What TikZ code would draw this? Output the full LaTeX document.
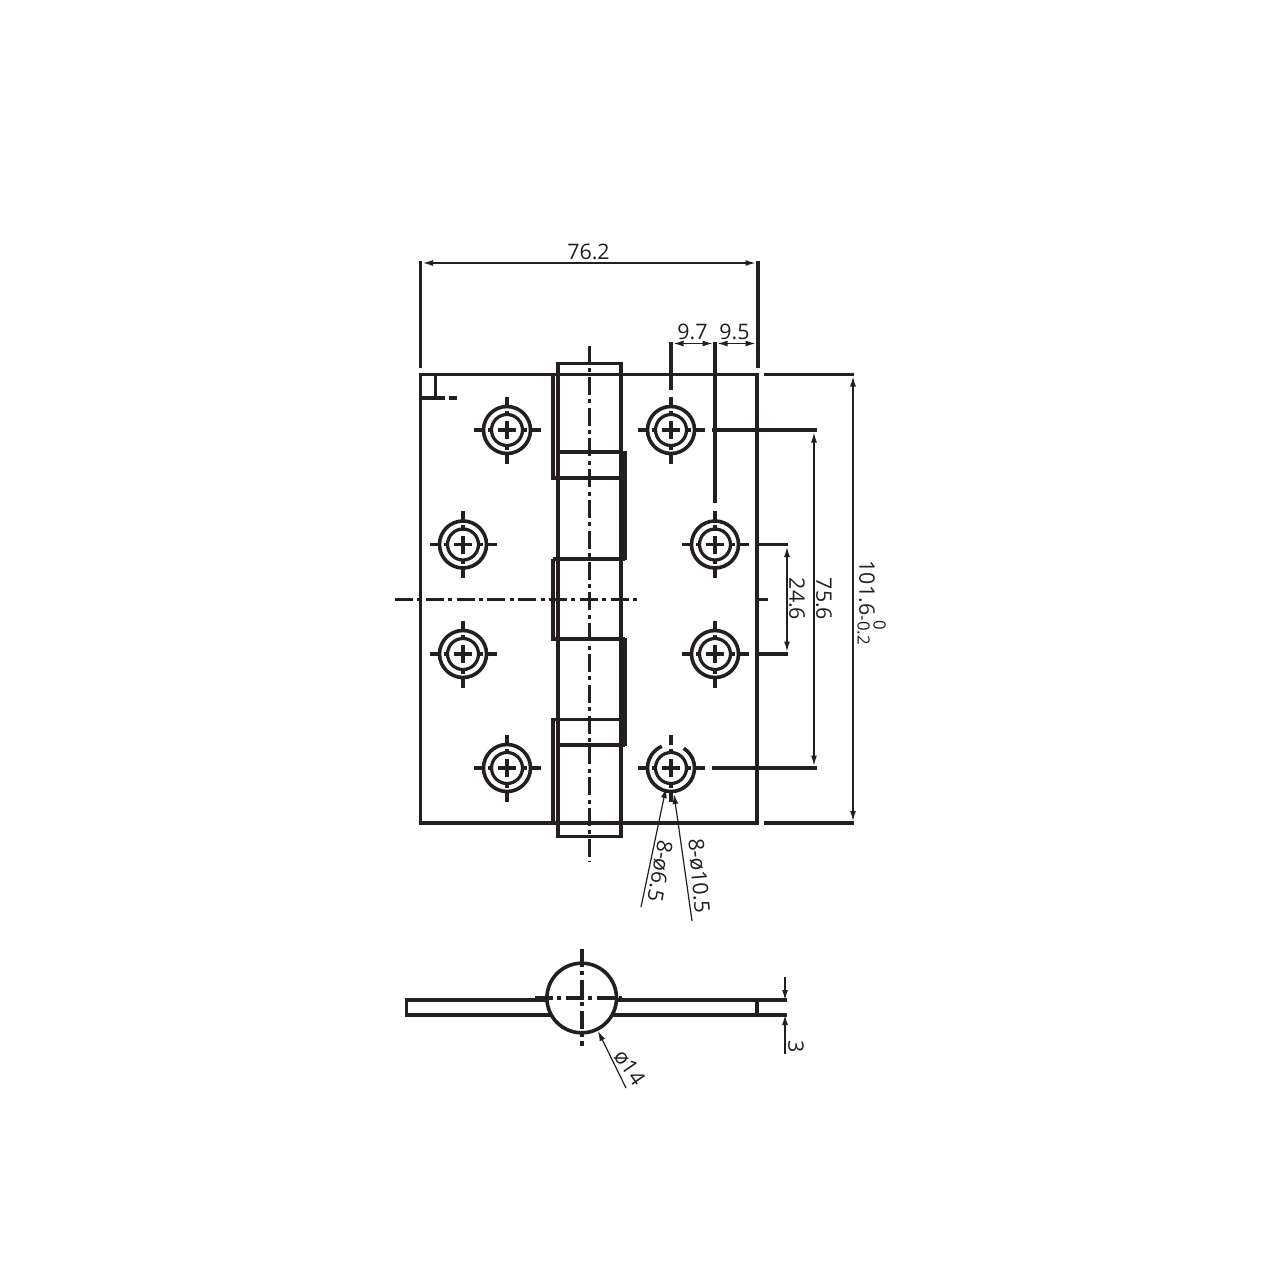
\documentclass[tikz,border=0pt]{standalone}
\usepackage{fontspec}
\setmainfont{Open Sans}
\usetikzlibrary{arrows.meta}
\definecolor{ink}{HTML}{231F20}
\tikzset{
    outline/.style={draw=ink, line width=1.8pt},
    heavyline/.style={draw=ink, line width=3pt},
    centerline/.style={draw=ink, line width=1.8pt, dash pattern=on 9pt off 2.2pt on 2pt off 2.2pt},
    screwring/.style={draw=ink, line width=1.6pt},
    dimline/.style={draw=ink, line width=.6pt, {Latex[length=5pt,width=3pt]}-{Latex[length=5pt,width=3pt]}},
    leader/.style={draw=ink, line width=.6pt, {Latex[length=5pt,width=3pt]}-},
    stopline/.style={draw=ink, line width=.6pt, -{Latex[length=5pt,width=3pt]}},
    dimtext/.style={text=ink, inner sep=0pt, font=\fontsize{10.7pt}{12pt}\selectfont}
}
\begin{document}
\begin{tikzpicture}[x=.5pt,y=-.5pt]
  \useasboundingbox (0,0) rectangle (1280,1280);
  % screw centres
  \coordinate (s1) at (507,430);
  \coordinate (s2) at (671,430);
  \coordinate (s3) at (463,544.5);
  \coordinate (s4) at (715,544.5);
  \coordinate (s5) at (463,654);
  \coordinate (s6) at (715,654);
  \coordinate (s7) at (507,768);
  \coordinate (s8) at (671,768);
  % leaf plate
  \draw[outline] (420.5,374.5) rectangle (757,823);
  \draw[outline] (435.5,374.5) -- (435.5,398) -- (420.5,398);
  \draw[outline] (435.5,398) -- (445,398) (449,398) -- (457,398);
  % knuckles
  \draw[outline] (558,363.5) rectangle (621,836.5);
  \draw[outline] (553,374.5) -- (553,478) -- (621,478);
  \draw[outline] (558,452) -- (621,452);
  \draw[outline] (553,559) -- (625,559);
  \draw[outline] (553,559) -- (553,639) -- (625,639);
  \draw[outline] (558,745) -- (625,745);
  \draw[outline] (553,823) -- (553,719.5) -- (621,719.5);
  \draw[heavyline] (623.5,451) -- (623.5,560);
  \draw[heavyline] (623.5,638) -- (623.5,746);
  % centre lines
  \draw[centerline] (589.5,346) -- (589.5,862);
  \draw[centerline] (395,599.5) -- (637,599.5);
  \draw[outline] (755,599.5) -- (768,599.5);
  % screws
  \foreach \s in {s1,s2,s3,s4,s5,s6,s7}
    \draw[outline] (\s) circle[radius=23.5];
  \draw[outline] (s8) ++(-57:23.5) arc[start angle=-57, end angle=247, radius=23.5];
  \foreach \s in {s1,s2,s3,s4,s5,s6,s7,s8} {
    \draw[screwring] (\s) circle[radius=15.5];
    \draw[screwring] (\s) ++(-9,0) -- ++(18,0) (\s) ++(0,-9) -- ++(0,18);
    \foreach \a in {0,90,180,270} {
      \draw[outline] (\s) ++(\a:23.5) -- ++(\a:10);
      \draw[screwring] (\s) ++(\a:14) -- ++(\a:5.5);
    }
  }
  % extension lines
  \coordinate (wl) at (423,263);
  \coordinate (wr) at (755.5,263);
  \coordinate (pa) at (673.5,343.5);
  \coordinate (pb) at (712.5,343.5);
  \coordinate (pd) at (717.5,343.5);
  \coordinate (pc) at (755.5,343.5);
  \coordinate (ha) at (853,376.5);
  \coordinate (hb) at (853,821);
  \coordinate (ga) at (814,432.5);
  \coordinate (gb) at (814,765.5);
  \coordinate (ka) at (787,547);
  \coordinate (kb) at (787,651.5);
  \draw[outline] (420.5,261) -- (420.5,368);
  \draw[outline] (758,261) -- (758,368);
  \draw[outline] (671,342) -- (671,390);
  \draw[outline] (715,342) -- (715,503);
  \draw[outline] (764,374.5) -- (854,374.5);
  \draw[outline] (764,823) -- (854,823);
  \draw[outline] (712,430) -- (817,430);
  \draw[outline] (712,768) -- (817,768);
  \draw[outline] (757,544.5) -- (788,544.5);
  \draw[outline] (757,654) -- (788,654);
  % dimensions
  \draw[dimline] (wl) -- (wr);
  \draw[dimline] (pa) -- (pb);
  \draw[dimline] (pd) -- (pc);
  \draw[dimline] (ha) -- (hb);
  \draw[dimline] (ga) -- (gb);
  \draw[dimline] (ka) -- (kb);
  \node[dimtext] (w) at (588.5,252) {76.2};
  \node[dimtext] (p1) at (692.5,332) {9.7};
  \node[dimtext] (p2) at (734.5,332) {9.5};
  \node[dimtext, rotate=-90] (k) at (797,599) {24.6};
  \node[dimtext, rotate=-90] (g) at (824,599) {75.6};
  \node[dimtext, rotate=-90] (h) at (867,588) {101.6};
  \node[dimtext, rotate=-90, font=\fontsize{8.4pt}{9pt}\selectfont] (h1) at (863.5,630.5) {-0.2};
  \node[dimtext, rotate=-90, font=\fontsize{8.4pt}{9pt}\selectfont] (h0) at (879.5,625.5) {0};
  % hole callouts
  \coordinate (t1) at (666,788);
  \coordinate (e1) at (641,907);
  \coordinate (t2) at (674,794);
  \coordinate (e2) at (692,921);
  \draw[leader] (t1) -- (e1);
  \draw[leader] (t2) -- (e2);
  \node[dimtext, rotate=-100] (c1) at (660,871) {8-ø6.5};
  \node[dimtext, rotate=-85] (c2) at (699,876) {8-ø10.5};
  % end view
  \draw[outline] (548,1000) -- (406.5,1000) -- (406.5,1015) -- (551,1015);
  \draw[outline] (615,1000) -- (787,1000);
  \draw[outline] (612,1015) -- (787,1015);
  \draw[outline] (757,1000) -- (757,1015);
  \coordinate (pin) at (581.7,998);
  \draw[outline] (pin) circle[radius=34.8];
  \draw[centerline] (582,949) -- (582,1046);
  \draw[centerline] (535,998) -- (622,998);
  % end view dimensions
  \coordinate (th1) at (785,1000);
  \coordinate (st1) at (785,977);
  \coordinate (th2) at (785,1015);
  \coordinate (st2) at (785,1054);
  \draw[stopline] (st1) -- (th1);
  \draw[stopline] (st2) -- (th2);
  \node[dimtext, rotate=-90] (th) at (796,1047) {3};
  \coordinate (t3) at (598,1031);
  \coordinate (e3) at (626,1088);
  \draw[leader] (t3) -- (e3);
  \node[dimtext, rotate=-55] (c3) at (629.5,1067.5) {ø14};
\end{tikzpicture}
\end{document}
